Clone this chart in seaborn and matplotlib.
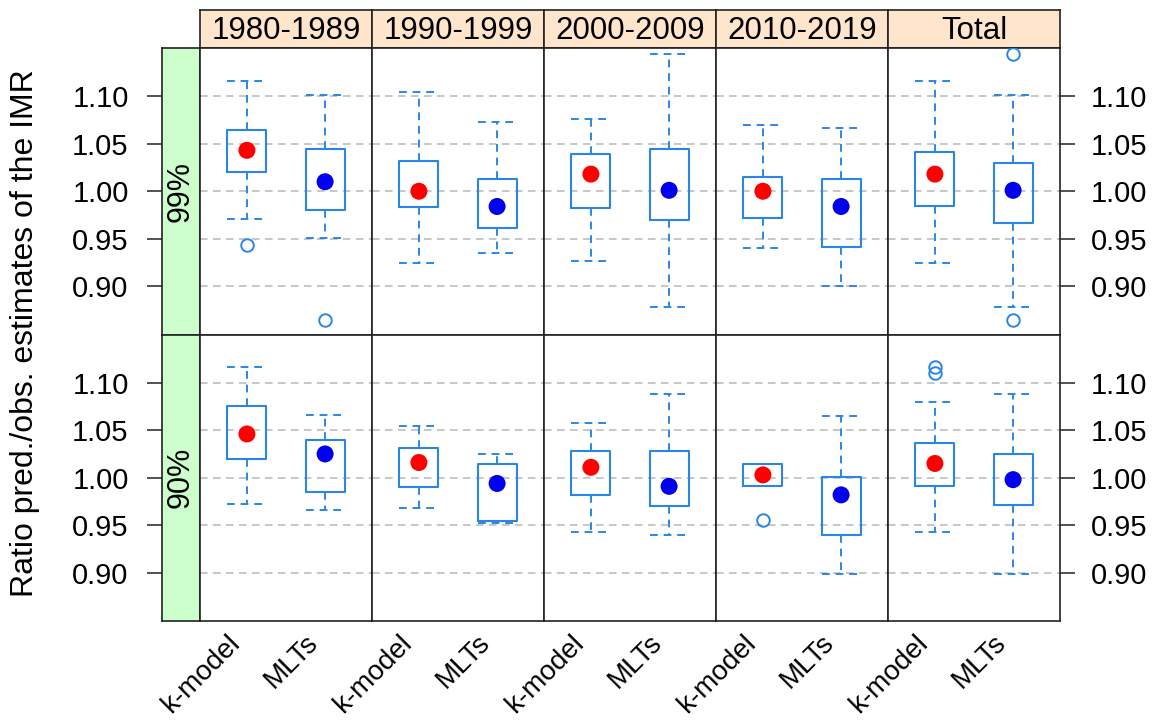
import numpy as np
import pandas as pd
import matplotlib
matplotlib.use("Agg")
import matplotlib.pyplot as plt
import seaborn as sns
from matplotlib.transforms import ScaledTranslation

# ---------------- data ----------------
periods = ["1980-1989", "1990-1999", "2000-2009", "2010-2019", "Total"]
methods = ["k-model", "MLTs"]
levels = ["99%", "90%"]

# order inside each list: for each period -> k-model, MLTs
whislo_99 = [0.971, 0.951, 0.925, 0.935, 0.927, 0.878, 0.940, 0.900, 0.925, 0.878]
q1_99     = [1.020, 0.980, 0.983, 0.961, 0.982, 0.970, 0.972, 0.941, 0.984, 0.967]
med_99    = [1.043, 1.010, 1.000, 0.984, 1.018, 1.001, 1.000, 0.984, 1.018, 1.001]
q3_99     = [1.064, 1.044, 1.032, 1.013, 1.039, 1.044, 1.015, 1.013, 1.041, 1.030]
whishi_99 = [1.116, 1.101, 1.104, 1.073, 1.076, 1.144, 1.070, 1.066, 1.116, 1.101]
out_99    = [[0.944], [0.865], [], [], [], [], [], [], [], [1.144, 0.865]]

whislo_90 = [0.972, 0.966, 0.968, 0.952, 0.943, 0.940, 0.991, 0.899, 0.943, 0.899]
q1_90     = [1.020, 0.985, 0.990, 0.955, 0.982, 0.970, 0.991, 0.940, 0.991, 0.971]
med_90    = [1.046, 1.025, 1.016, 0.994, 1.011, 0.991, 1.003, 0.982, 1.015, 0.998]
q3_90     = [1.075, 1.040, 1.031, 1.014, 1.028, 1.028, 1.014, 1.001, 1.036, 1.025]
whishi_90 = [1.116, 1.066, 1.054, 1.025, 1.057, 1.088, 1.014, 1.065, 1.080, 1.088]
out_90    = [[], [], [], [], [], [], [0.956], [], [1.116, 1.110], []]

yticks = [0.90, 0.95, 1.00, 1.05, 1.10]
ylabel = "Ratio pred./obs. estimates of the IMR"

level_data = {
    "99%": (whislo_99, q1_99, med_99, q3_99, whishi_99, out_99),
    "90%": (whislo_90, q1_90, med_90, q3_90, whishi_90, out_90),
}

# ---------------- style ----------------
sns.set_theme(style="white")
plt.rcParams['font.family'] = ['Liberation Sans', 'DejaVu Sans']
plt.rcParams.update({"text.color": "black", "axes.labelcolor": "black",
                     "xtick.color": "black", "ytick.color": "black"})

BOX = "#2a86e6"
GRID = "#b8b8b8"
STRIP_TOP = "#ffe5cc"
STRIP_LEFT = "#ccffcc"
palette = {"k-model": "#ff0000", "MLTs": "#0000ee"}
YLIM = (0.8495, 1.1505)
XLIM = (-0.6, 1.6)

W, H = 1168, 725
fig = plt.figure(figsize=(W / 100, H / 100), dpi=100)


def rect(x, y, w, h):
    return [x / W, 1 - (y + h) / H, w / W, h / H]


PX0, PW = 200, 172
ROW_TOP = [48, 334.5]
RH = 286.5
FRAME_LW = 1.2
TICK_FS = 21

for c, per in enumerate(periods):
    sax = fig.add_axes(rect(PX0 + PW * c, 10, PW, 38))
    sax.set_facecolor(STRIP_TOP)
    sax.set_xticks([]); sax.set_yticks([])
    for sp in sax.spines.values():
        sp.set_color("#222222"); sp.set_linewidth(FRAME_LW)
    sax.text(0.5, 0.45, per, ha="center", va="center", fontsize=22.5,
             transform=sax.transAxes)

for r, lev in enumerate(levels):
    whislo, q1, med, q3, whishi, outs = level_data[lev]
    # left strip with the y axis
    lax = fig.add_axes(rect(162, ROW_TOP[r], 38, RH))
    lax.set_facecolor(STRIP_LEFT)
    lax.set_ylim(*YLIM)
    lax.set_xticks([])
    lax.set_yticks(yticks)
    lax.set_yticklabels([f"{v:.2f}" for v in yticks])
    lax.tick_params(axis="y", left=True, length=11, width=1.2, color="#333333",
                    labelsize=TICK_FS, pad=13, direction="out")
    for sp in lax.spines.values():
        sp.set_color("#222222"); sp.set_linewidth(FRAME_LW)
    lax.text(0.5, 0.5, lev, rotation=90, ha="center", va="center",
             fontsize=22, transform=lax.transAxes)

    for c, per in enumerate(periods):
        ax = fig.add_axes(rect(PX0 + PW * c, ROW_TOP[r], PW, RH))
        ax.set_facecolor("white")
        stats = []
        for m_i, m in enumerate(methods):
            k = 2 * c + m_i
            stats.append(dict(med=med[k], q1=q1[k], q3=q3[k],
                              whislo=whislo[k], whishi=whishi[k],
                              fliers=outs[k], label=m))
        sub = pd.DataFrame({
            "method": methods,
            "median": [med[2 * c], med[2 * c + 1]],
        })
        sns.scatterplot(data=sub, x="method", y="median", hue="method",
                        palette=palette, s=150, linewidth=0, legend=False,
                        ax=ax, zorder=6)
        ax.bxp(stats, positions=[0, 1], widths=0.5, showfliers=True,
               boxprops=dict(color=BOX, linewidth=1.5),
               whiskerprops=dict(color=BOX, linewidth=1.4, linestyle=(0, (4, 3))),
               capprops=dict(color=BOX, linewidth=1.4, linestyle=(0, (4, 3))),
               medianprops=dict(linewidth=0),
               flierprops=dict(marker="o", markersize=9, markerfacecolor="none",
                               markeredgecolor=BOX, markeredgewidth=1.4),
               capwidths=0.5, zorder=4)
        ax.set_xlim(*XLIM)
        ax.set_ylim(*YLIM)
        ax.set_yticks(yticks)
        ax.grid(axis="y", color=GRID, linestyle=(0, (5, 3.5)), linewidth=1.1, zorder=0)
        ax.set_axisbelow(True)
        ax.set_xlabel(""); ax.set_ylabel("")
        for sp in ax.spines.values():
            sp.set_color("#222222"); sp.set_linewidth(FRAME_LW); sp.set_visible(True)
        if c == len(periods) - 1:
            ax.yaxis.tick_right()
            ax.set_yticklabels([f"{v:.2f}" for v in yticks])
            ax.tick_params(axis="y", right=True, left=False, length=11, width=1.2,
                           color="#333333", labelsize=TICK_FS, pad=11,
                           labelright=True, labelleft=False, direction="out")
        else:
            ax.tick_params(axis="y", length=0, labelleft=False, labelright=False,
                           left=False, right=False)
        ax.set_xticks([0, 1])
        if r == len(levels) - 1:
            ax.set_xticklabels(methods, rotation=45, ha="right", va="center",
                               rotation_mode="anchor", fontsize=20)
            ax.tick_params(axis="x", length=0, pad=13, bottom=False)
            for lab in ax.get_xticklabels():
                lab.set_transform(lab.get_transform() +
                                  ScaledTranslation(-11 / 100, 0, fig.dpi_scale_trans))
        else:
            ax.tick_params(axis="x", length=0, labelbottom=False, bottom=False)

fig.text(25 / W, 1 - 333 / H, ylabel, rotation=90, ha="center", va="center",
         fontsize=23)

fig.savefig("out.png", dpi=100, facecolor="white")
